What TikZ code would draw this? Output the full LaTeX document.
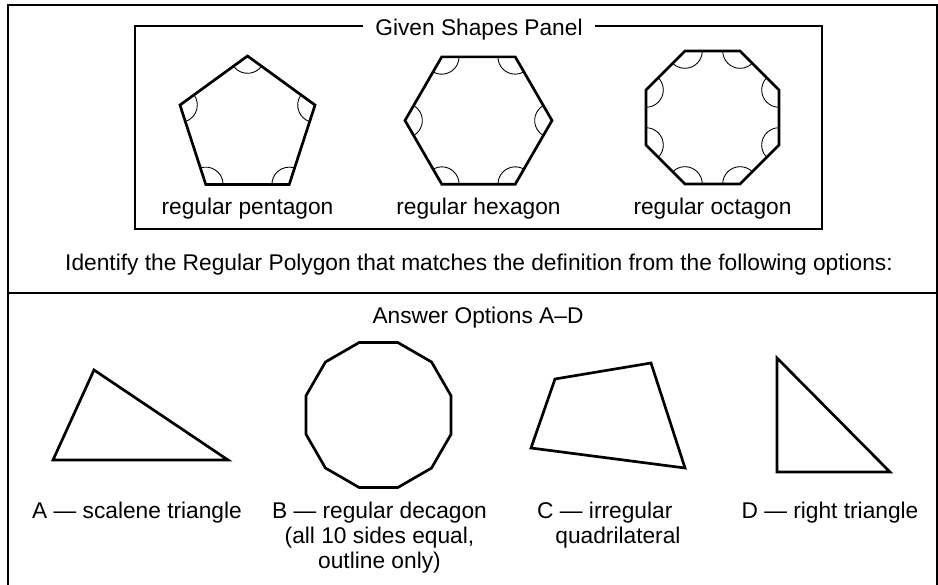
\documentclass[tikz,border=0pt]{standalone}
\usepackage{fontspec}
\setmainfont{Liberation Sans}
\usetikzlibrary{angles}

\begin{document}
\begin{tikzpicture}[
  x=0.03cm, y=-0.03cm,
  txt/.style={font=\fontsize{19.4}{21.3}\selectfont, inner sep=0pt},
  frame/.style={line width=1.4pt},
  panel/.style={line width=0.9pt},
  outline/.style={line width=2.3pt},
  anglearc/.style={draw, line width=0.75pt, angle radius=0.52cm}
]
\useasboundingbox (0,0) rectangle (938,585);

% Outer frame (open at the bottom) and the divider line
\draw[frame] (8,585) -- (8,5) -- (937,5) -- (937,585);
\draw[frame] (8,293) -- (937,293);

% Given shapes panel, title sits on the top edge
\draw[panel] (135,26) rectangle (822,229);
\node[txt, fill=white, inner xsep=0.36cm, anchor=base] (title) at (479,35) {Given Shapes Panel};

% Regular polygons: sides/centre x/centre y/radius/start angle/name
\foreach \n/\cx/\cy/\r/\a/\nm in {5/247.5/127/71/270/pen, 6/478.5/120.5/73.5/0/hex, 8/712.5/117.5/72/22.5/oct}{
  \foreach \k in {1,...,\n}
    \coordinate (\nm\k) at ([shift={(\cx,\cy)}]{\a+360/\n*\k}:\r);
  \draw[outline] (\nm1) \foreach \k in {2,...,\n}{-- (\nm\k)} -- cycle;
  % interior angle marks
  \foreach \k in {1,...,\n}{
    \pgfmathtruncatemacro{\p}{mod(\k+\n-2,\n)+1}
    \pgfmathtruncatemacro{\q}{mod(\k,\n)+1}
    \pic[anglearc] {angle=\nm\p--\nm\k--\nm\q};
  }
}
\node[txt, anchor=base] (penlabel) at (247.5,214) {regular pentagon};
\node[txt, anchor=base] (hexlabel) at (478.5,214) {regular hexagon};
\node[txt, anchor=base] (octlabel) at (712.5,214) {regular octagon};

% Question line
\node[txt, anchor=base] (question) at (479,270) {Identify the Regular Polygon that matches the definition from the following options:};

% Answer options
\node[txt, anchor=base] (options) at (478,323) {Answer Options A–D};
\draw[outline] (94,370) -- (53,460) -- (228,460) -- cycle;                  % A
\draw[outline, shift={(378.5,415)}] (15:75) \foreach \k in {45,75,...,345}{-- (\k:75)} -- cycle; % B
\draw[outline] (555,379) -- (651,363) -- (685,468) -- (531,448) -- cycle;   % C
\draw[outline] (777,358) -- (777,472) -- (890,472) -- cycle;                % D

\node[txt, anchor=base] (alabel) at (137,518) {A — scalene triangle};
\node[txt, anchor=north, align=center] (blabel) at (379.5,502) {B — regular decagon\\(all 10 sides equal,\\outline only)};
\node[txt, anchor=north west, align=left] (clabel) at (537,502) {C — irregular\\\hspace*{0.8em}quadrilateral};
\node[txt, anchor=base] (dlabel) at (830,518) {D — right triangle};
\end{tikzpicture}
\end{document}
